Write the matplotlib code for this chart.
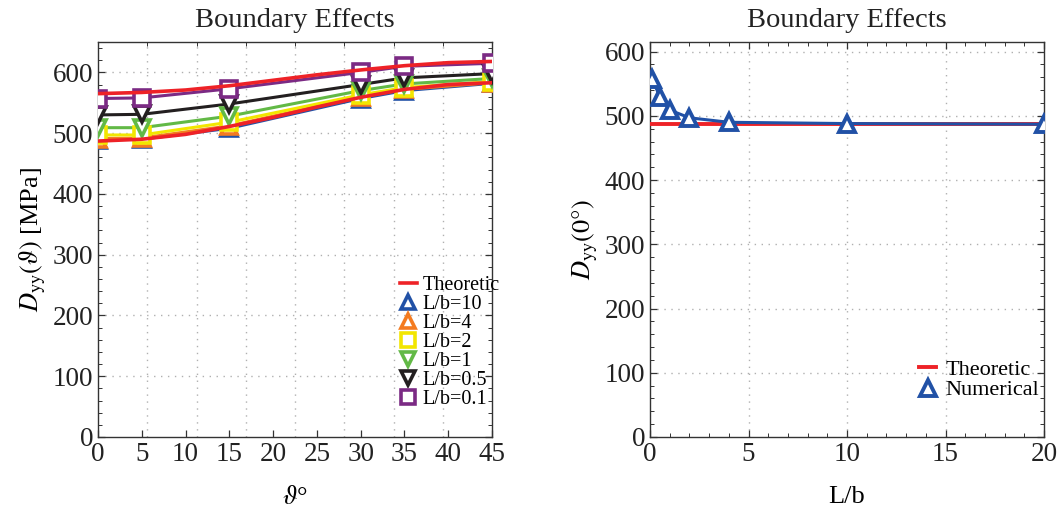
import numpy as np
import matplotlib
matplotlib.use("Agg")
import matplotlib.pyplot as plt
from matplotlib.ticker import MultipleLocator, FixedLocator

plt.rcParams['font.family'] = ['Liberation Serif', 'DejaVu Serif']
plt.rcParams['mathtext.fontset'] = 'stix'

# --- donnees ---
theta = [0, 5, 15, 30, 35, 45]
num_lb10 = [489, 490, 508, 557, 570, 582]
num_lb4 = [491, 492, 512, 560, 572, 583]
num_lb2 = [497, 497, 518, 563, 575, 585]
num_lb1 = [509, 509, 528, 570, 581, 590]
num_lb05 = [530, 531, 548, 580, 591, 598]
num_lb01 = [557, 558, 573, 600, 610, 615]

theta_th = [0, 5, 10, 15, 20, 25, 30, 35, 40, 45]
theo_low = [487, 490, 498, 511, 526, 543, 559, 572, 580, 583]
theo_high = [565, 567, 571, 578, 587, 596, 604, 611, 616, 618]

lb = [0.1, 0.5, 1, 2, 4, 10, 20]
dyy0 = [558, 530, 509, 497, 490, 488, 487]
lb_th = [0, 20]
dyy0_th = [487, 487]

red = '#ee2227'
blue = '#2151a6'
series = [
    (num_lb10, 'L/b=10', blue, '^'),
    (num_lb4, 'L/b=4', '#f47b20', '^'),
    (num_lb2, 'L/b=2', '#f2e600', 's'),
    (num_lb1, 'L/b=1', '#62b946', 'v'),
    (num_lb05, 'L/b=0.5', '#231f20', 'v'),
    (num_lb01, 'L/b=0.1', '#7b2a84', 's'),
]

fig = plt.figure(figsize=(10.62, 5.15), dpi=100)
ax1 = fig.add_axes([98/1062, 78/515, 394/1062, 395/515])
ax2 = fig.add_axes([650/1062, 78/515, 394/1062, 395/515])

grille = dict(color='#b0b0b0', ls=(0, (1, 4)), lw=1.0, zorder=0)


def habillage(ax):
    for s in ax.spines.values():
        s.set_color('#333333')
        s.set_linewidth(1.0)
    ax.tick_params(which='both', direction='in', top=True, right=True,
                   labelsize=19.5, colors='#333333', labelcolor='#222222')
    ax.tick_params(which='major', length=5, width=0.9)
    ax.tick_params(which='minor', length=3, width=0.7)
    ax.yaxis.set_minor_locator(MultipleLocator(20))
    ax.set_title('Boundary Effects', fontsize=20.5, color='#222222', pad=11)


# --- panneau gauche ---
hs = []
h, = ax1.plot(theta_th, theo_low, color=red, lw=2.6, zorder=5)
ax1.plot(theta_th, theo_high, color=red, lw=2.6, zorder=5)
hs.append((h, 'Theoretic'))
for y, lab, c, m in series:
    ax1.plot(theta, y, color=c, lw=2.2, zorder=3)
    hm, = ax1.plot(theta, y, ls='none', marker=m, ms=11, mfc='white',
                   mec=c, mew=2.6, zorder=4)
    hs.append((hm, lab))
ax1.set_xlim(0, 45)
ax1.set_ylim(0, 650)
ax1.xaxis.set_major_locator(MultipleLocator(5))
ax1.yaxis.set_major_locator(MultipleLocator(100))
habillage(ax1)
ax1.xaxis.set_minor_locator(FixedLocator(np.arange(1, 8) * 45 / 8))
ax1.tick_params(axis='x', which='minor', bottom=False, top=True)
ax1.tick_params(axis='x', which='major', top=False)
for gx in np.arange(1, 8) * 45 / 8:
    ax1.axvline(gx, **grille)
for gy in range(100, 700, 100):
    ax1.axhline(gy, **grille)
ax1.set_xlabel(r'$\vartheta$°', fontsize=19, labelpad=14)
ax1.set_ylabel(r'$D_{\mathrm{yy}}(\vartheta)$ [MPa]', fontsize=19, labelpad=3)
leg1 = ax1.legend([x[0] for x in hs], [x[1] for x in hs], loc='lower right',
                  bbox_to_anchor=(1.04, 0.05), frameon=False, fontsize=14.5,
                  handlelength=0.8, handletextpad=0.3, labelspacing=0.0,
                  borderaxespad=0.0, markerscale=0.9)
leg1.set_zorder(10)

# --- panneau droit ---
ht, = ax2.plot(lb_th, dyy0_th, color=red, lw=2.8, zorder=3)
ax2.plot(lb, dyy0, color=blue, lw=2.2, zorder=4)
hn, = ax2.plot(lb, dyy0, ls='none', marker='^', ms=12, mfc='white',
               mec=blue, mew=2.8, zorder=5)
ax2.set_xlim(0, 20)
ax2.set_ylim(0, 615)
ax2.xaxis.set_major_locator(MultipleLocator(5))
ax2.xaxis.set_minor_locator(MultipleLocator(1))
ax2.yaxis.set_major_locator(MultipleLocator(100))
habillage(ax2)
for gx in [5, 10, 15]:
    ax2.axvline(gx, **grille)
for gy in range(100, 700, 100):
    ax2.axhline(gy, **grille)
ax2.set_xlabel('L/b', fontsize=19, labelpad=14)
ax2.set_ylabel(r'$D_{\mathrm{yy}}(0°)$', fontsize=19, labelpad=3)
leg2 = ax2.legend([ht, hn], ['Theoretic', 'Numerical'], loc='lower right',
                  bbox_to_anchor=(1.01, 0.07), frameon=False, fontsize=16,
                  handlelength=0.8, handletextpad=0.4, labelspacing=0.0,
                  borderaxespad=0.0)

fig.savefig('out.png', dpi=100)
